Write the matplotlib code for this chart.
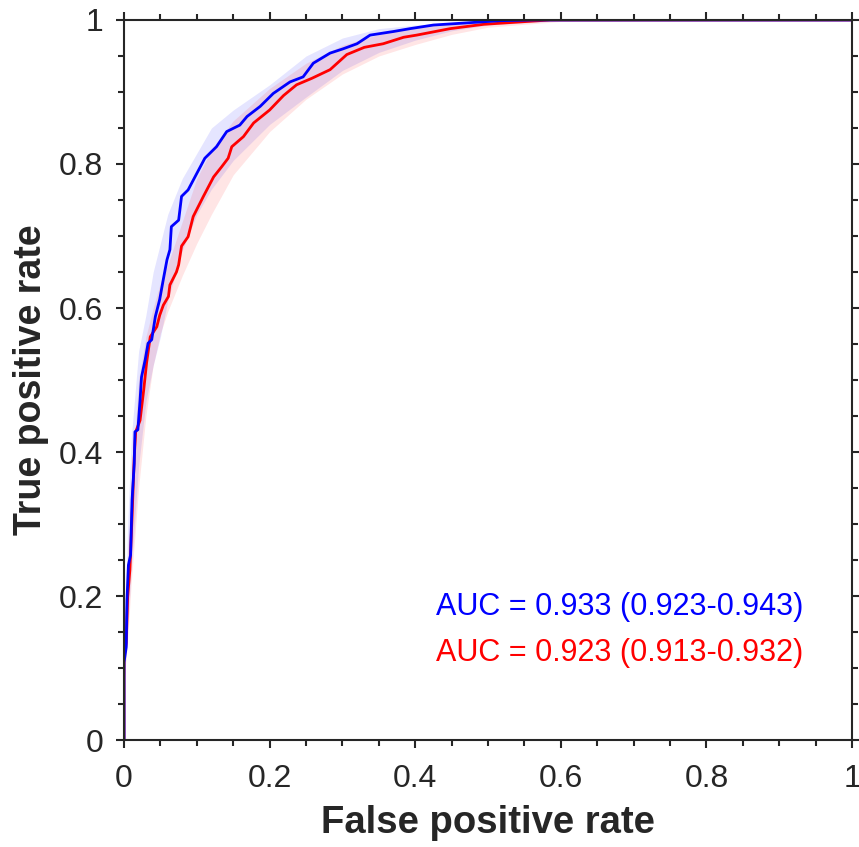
import matplotlib
matplotlib.use("Agg")
from matplotlib import pyplot as plt
from matplotlib.ticker import MultipleLocator

# ROC curve (false positive rate, true positive rate)
blue_fpr = [0, 0, 0.003, 0.004, 0.006, 0.009, 0.011, 0.014, 0.015, 0.019, 0.022,
            0.024, 0.029, 0.033, 0.038, 0.043, 0.049, 0.054, 0.059, 0.063, 0.065,
            0.075, 0.079, 0.088, 0.100, 0.111, 0.127, 0.141, 0.159, 0.169, 0.187,
            0.205, 0.228, 0.246, 0.260, 0.283, 0.301, 0.320, 0.338, 0.370, 0.393,
            0.425, 0.471, 0.516, 0.562, 1.0]
blue_tpr = [0, 0.108, 0.129, 0.194, 0.243, 0.257, 0.333, 0.384, 0.428, 0.431, 0.472,
            0.504, 0.528, 0.551, 0.556, 0.588, 0.612, 0.640, 0.667, 0.681, 0.713,
            0.722, 0.755, 0.764, 0.787, 0.808, 0.824, 0.845, 0.854, 0.866, 0.880,
            0.898, 0.914, 0.921, 0.940, 0.954, 0.960, 0.967, 0.979, 0.984, 0.988,
            0.993, 0.996, 0.999, 1.0, 1.0]

red_fpr = [0, 0, 0.003, 0.005, 0.008, 0.011, 0.014, 0.016, 0.022, 0.027, 0.031,
           0.036, 0.045, 0.049, 0.054, 0.061, 0.063, 0.072, 0.075, 0.079, 0.088,
           0.095, 0.109, 0.123, 0.134, 0.143, 0.148, 0.164, 0.178, 0.200, 0.219,
           0.237, 0.258, 0.283, 0.306, 0.330, 0.356, 0.384, 0.402, 0.448, 0.494,
           0.539, 0.585, 1.0]
red_tpr = [0, 0.115, 0.135, 0.199, 0.236, 0.310, 0.393, 0.428, 0.444, 0.486, 0.524,
           0.560, 0.574, 0.590, 0.604, 0.616, 0.632, 0.650, 0.660, 0.686, 0.699,
           0.727, 0.755, 0.782, 0.796, 0.808, 0.824, 0.838, 0.857, 0.875, 0.895,
           0.910, 0.919, 0.931, 0.952, 0.962, 0.967, 0.976, 0.979, 0.988, 0.994,
           0.997, 1.0, 1.0]

# confidence bands
band_fpr = [0, 0.005, 0.01, 0.02, 0.03, 0.04, 0.05, 0.06, 0.08, 0.10, 0.12, 0.15,
            0.20, 0.25, 0.30, 0.35, 0.40, 0.45, 0.50, 0.60, 1.0]
blue_hi = [0.12, 0.30, 0.42, 0.54, 0.59, 0.65, 0.69, 0.73, 0.78, 0.815, 0.85, 0.875,
           0.91, 0.95, 0.975, 0.988, 0.993, 0.996, 0.998, 1.0, 1.0]
blue_lo = [0.08, 0.15, 0.24, 0.38, 0.47, 0.52, 0.56, 0.61, 0.68, 0.73, 0.765, 0.805,
           0.855, 0.893, 0.93, 0.955, 0.972, 0.985, 0.993, 0.999, 1.0]
red_hi = [0.12, 0.26, 0.35, 0.50, 0.56, 0.60, 0.635, 0.66, 0.72, 0.78, 0.82, 0.86,
          0.905, 0.94, 0.965, 0.98, 0.99, 0.995, 0.998, 1.0, 1.0]
red_lo = [0.08, 0.14, 0.22, 0.35, 0.45, 0.52, 0.565, 0.595, 0.645, 0.69, 0.73, 0.785,
          0.845, 0.89, 0.925, 0.95, 0.966, 0.98, 0.99, 0.998, 1.0]

auc_labels = ["AUC = 0.933 (0.923-0.943)", "AUC = 0.923 (0.913-0.932)"]
ticks = [0, 0.2, 0.4, 0.6, 0.8, 1]
tick_labels = ["0", "0.2", "0.4", "0.6", "0.8", "1"]

plt.rcParams['font.family'] = ['Liberation Sans', 'DejaVu Sans']
dark = '#262626'

fig = plt.figure(figsize=(8.59, 8.47), dpi=100)
ax = fig.add_axes([0.1444, 0.1263, 0.8475, 0.8501])

ax.fill_between(band_fpr, blue_lo, blue_hi, color=(0, 0, 1), alpha=0.1, linewidth=0)
ax.fill_between(band_fpr, red_lo, red_hi, color=(1, 0, 0), alpha=0.1, linewidth=0)
ax.plot(red_fpr, red_tpr, color=(1, 0, 0), lw=2)
ax.plot(blue_fpr, blue_tpr, color=(0, 0, 1), lw=2)

ax.text(0.681, 0.185, auc_labels[0], color=(0, 0, 1), fontsize=22,
        ha='center', va='center')
ax.text(0.681, 0.121, auc_labels[1], color=(1, 0, 0), fontsize=22,
        ha='center', va='center')

ax.set_xlim(0, 1)
ax.set_ylim(0, 1)
ax.set_xticks(ticks)
ax.set_yticks(ticks)
ax.set_xticklabels(tick_labels)
ax.set_yticklabels(tick_labels)
ax.xaxis.set_minor_locator(MultipleLocator(0.05))
ax.yaxis.set_minor_locator(MultipleLocator(0.05))
ax.tick_params(which='both', direction='out', top=True, right=True, colors=dark,
               width=1.5, labelsize=23, labelcolor=dark)
ax.tick_params(which='major', length=6)
ax.tick_params(which='minor', length=4)
ax.tick_params(axis='x', which='major', pad=11)
ax.tick_params(axis='y', which='major', pad=9)
for s in ax.spines.values():
    s.set_color(dark)
    s.set_linewidth(1.5)

ax.set_xlabel("False positive rate", fontsize=27.5, fontweight='bold', color=dark, labelpad=8)
ax.set_ylabel("True positive rate", fontsize=27, fontweight='bold', color=dark, labelpad=7)

fig.savefig("out.png", dpi=100)
